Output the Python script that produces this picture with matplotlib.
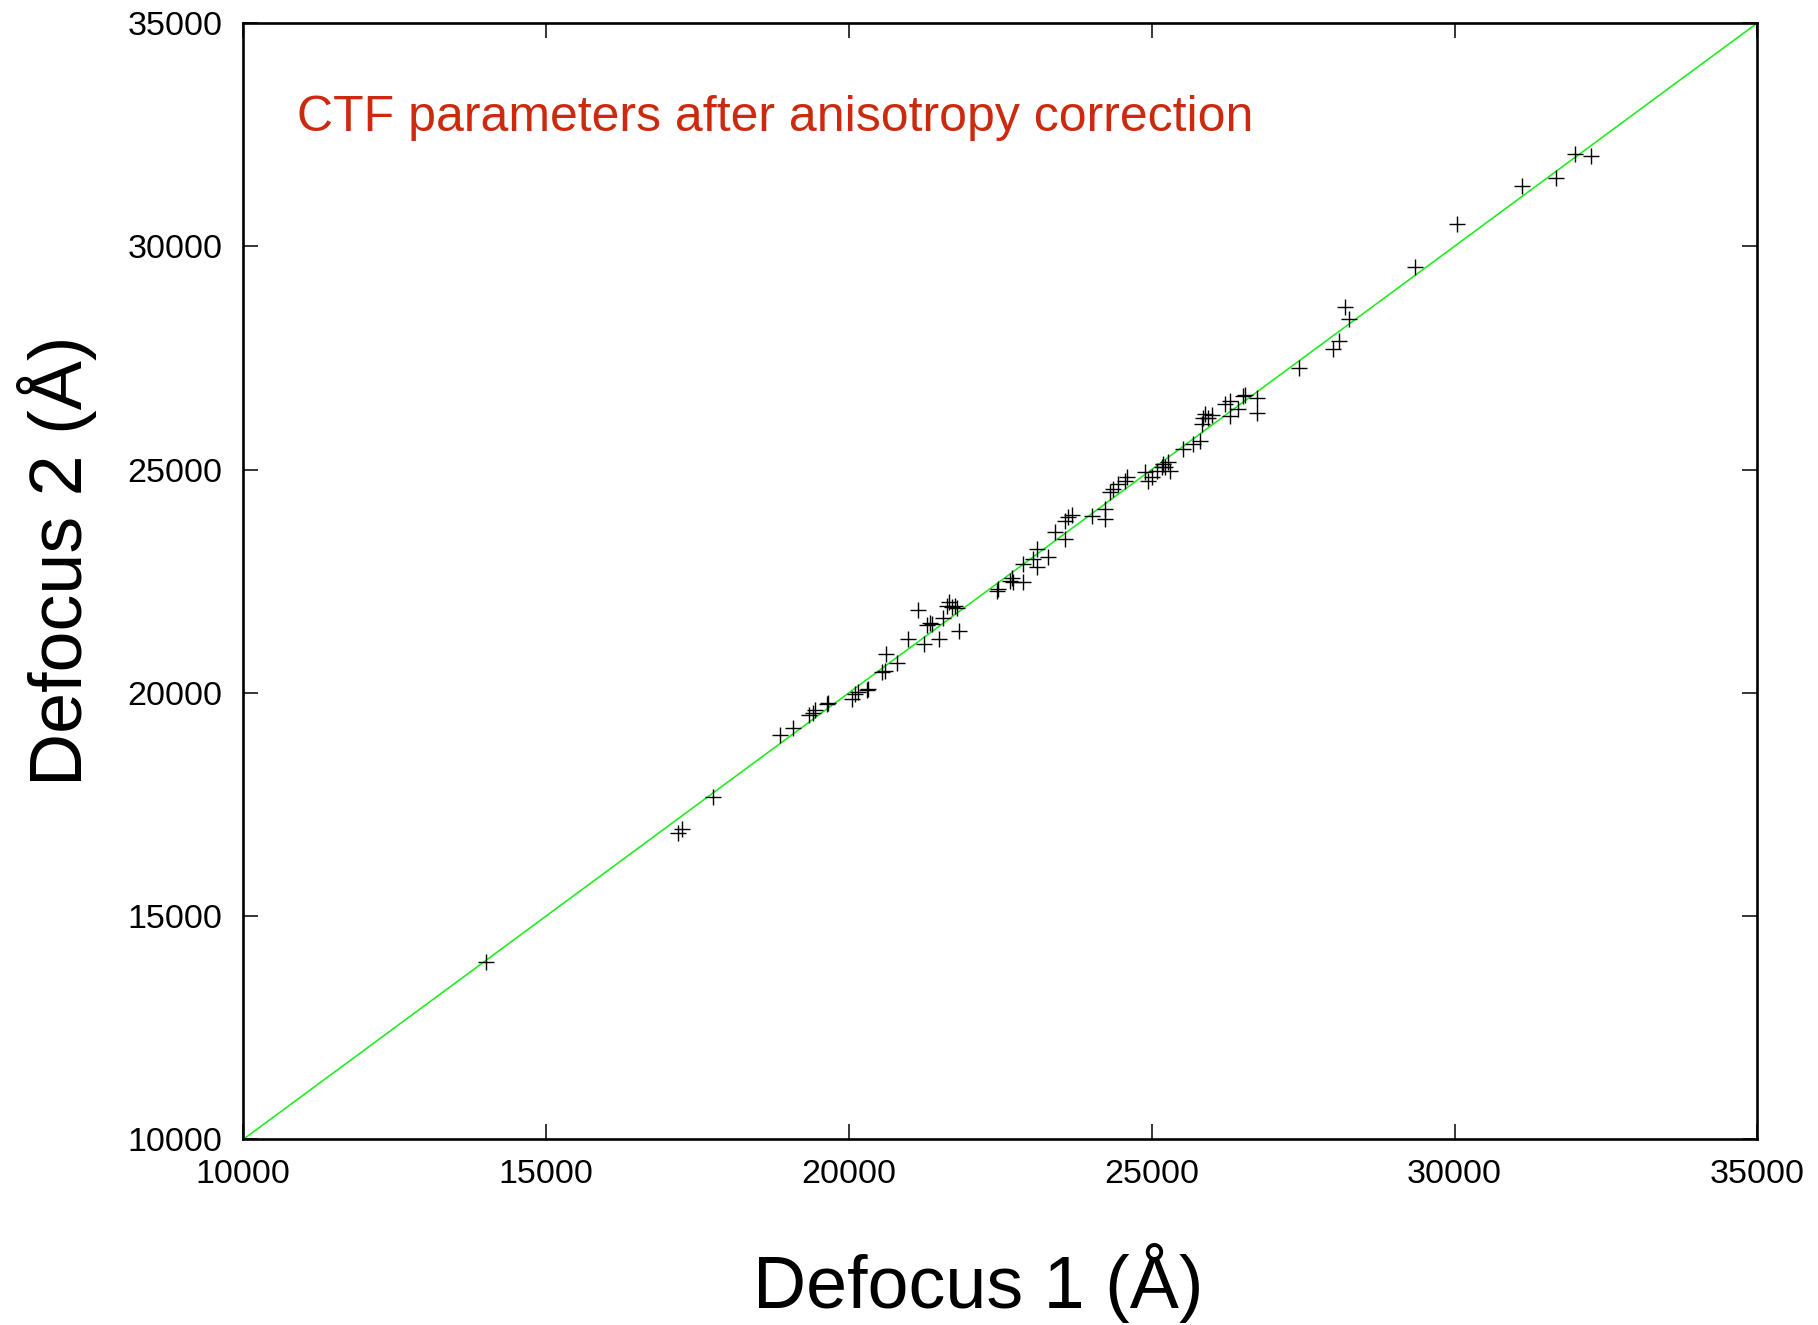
import matplotlib
matplotlib.use('Agg')
import matplotlib.pyplot as plt
import numpy as np

# defocus values per micrograph, after anisotropy correction (Angstrom)
defocus1 = [14008, 17183, 17239, 17761, 18862, 19082, 19346, 19403, 19441, 19634,
            19660, 20047, 20101, 20156, 20294, 20321, 20542, 20597, 20613, 20790,
            20981, 21146, 21240, 21285, 21340, 21368, 21493, 21549, 21615, 21653,
            21698, 21752, 21780, 21823, 22451, 22467, 22661, 22689, 22715, 22880,
            22880, 23045, 23101, 23101, 23293, 23404, 23569, 23569, 23623, 23679,
            24009, 24229, 24229, 24312, 24366, 24449, 24559, 24587, 24890, 24944,
            25000, 25083, 25165, 25192, 25220, 25274, 25302, 25522, 25687, 25798,
            25826, 25852, 25880, 25935, 25991, 26211, 26294, 26294, 26431, 26513,
            26541, 26734, 26744, 27433, 27989, 28098, 28193, 28264, 29348, 30037,
            31110, 31677, 31990, 32254]
defocus2 = [13968, 16851, 16947, 17671, 19048, 19213, 19495, 19555, 19607, 19757,
            19774, 19868, 19980, 20018, 20054, 20092, 20465, 20479, 20874, 20673,
            21209, 21864, 21098, 21522, 21567, 21544, 21209, 21672, 21954, 22030,
            21918, 21954, 21896, 21373, 22289, 22327, 22512, 22566, 22477, 22490,
            22886, 22998, 23221, 22812, 23035, 23594, 23445, 23853, 23929, 23981,
            23965, 24115, 23891, 24488, 24562, 24674, 24748, 24824, 24935, 24748,
            24824, 24971, 25047, 25121, 25047, 25159, 24971, 25456, 25568, 25642,
            26015, 26165, 26238, 26165, 26216, 26462, 26536, 26201, 26350, 26647,
            26663, 26612, 26263, 27267, 27691, 27877, 28637, 28377, 29531, 30507,
            31341, 31529, 32065, 32027]
assert len(defocus1) == len(defocus2)

lims = [10000, 35000]
ticks = [10000, 15000, 20000, 25000, 30000, 35000]

plt.rcParams['font.family'] = ['Liberation Sans', 'DejaVu Sans']

W, H = 1818, 1325
fig = plt.figure(figsize=(W / 100, H / 100), dpi=100)
ax = fig.add_axes([243.3 / W, 1 - 1139.3 / H, 1514 / W, 1116.3 / H])

# y = x reference line
ax.plot(lims, lims, color='#11ee11', lw=1.1, zorder=2)
ax.plot(defocus1, defocus2, '+', color='black', ms=11, mew=1.0, zorder=3)

ax.set_xlim(lims)
ax.set_ylim(lims)
ax.set_xticks(ticks)
ax.set_yticks(ticks)
ax.tick_params(direction='in', length=11, width=1.1, top=True, right=True,
               labelsize=24.5)
ax.tick_params(axis='x', pad=14)
ax.tick_params(axis='y', pad=15)
for s in ax.spines.values():
    s.set_linewidth(1.9)

fig.text(978 / W, 1 - 1308 / H, 'Defocus 1 (Å)', fontsize=53,
         ha='center', va='baseline')
fig.text(82 / W, 1 - 561 / H, 'Defocus 2 (Å)', fontsize=53, rotation=90,
         rotation_mode='anchor', ha='center', va='baseline')
fig.text(297 / W, 1 - 131 / H, 'CTF parameters after anisotropy correction',
         fontsize=36, color='#cc2a0e', ha='left', va='baseline')

fig.savefig('out.png', dpi=100)
